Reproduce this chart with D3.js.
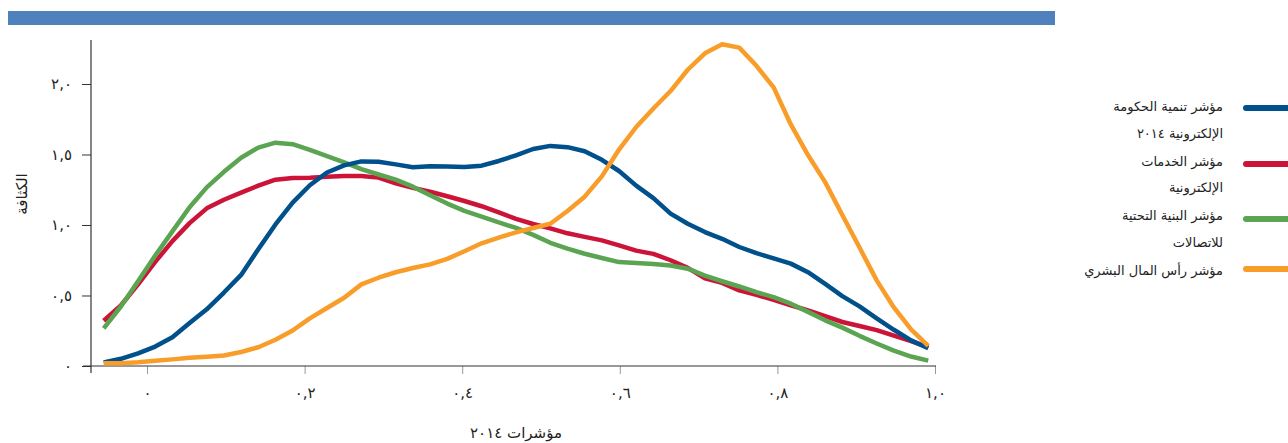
<!DOCTYPE html>
<html><head><meta charset="utf-8">
<script src="https://cdn.jsdelivr.net/npm/d3@7"></script>
<style>
html,body{margin:0;padding:0;background:#fff;}
svg{display:block;font-family:"DejaVu Sans",sans-serif;}
</style></head>
<body><svg id="c" width="1288" height="443"></svg>
<script>
// x positions (index values)
const xs = [-0.055,-0.0332,-0.0114,0.0104,0.0322,0.054,0.0758,0.0976,0.1194,0.1412,0.163,0.1848,0.2066,0.2284,0.2502,0.272,0.2938,0.3156,0.3374,0.3592,0.381,0.4028,0.4246,0.4464,0.4682,0.49,0.5118,0.5336,0.5554,0.5772,0.599,0.6208,0.6426,0.6644,0.6862,0.708,0.7298,0.7516,0.7734,0.7952,0.817,0.8388,0.8606,0.8824,0.9042,0.926,0.9478,0.9696,0.9914];
const egdi = [0.026,0.051,0.089,0.138,0.204,0.305,0.402,0.521,0.646,0.828,1.004,1.159,1.282,1.372,1.423,1.451,1.448,1.430,1.410,1.417,1.415,1.411,1.421,1.454,1.494,1.539,1.561,1.552,1.523,1.462,1.383,1.279,1.191,1.081,1.009,0.950,0.902,0.844,0.800,0.763,0.726,0.665,0.582,0.496,0.423,0.338,0.257,0.182,0.126];
const osi = [0.321,0.429,0.579,0.738,0.886,1.013,1.118,1.179,1.230,1.279,1.321,1.333,1.335,1.342,1.348,1.347,1.336,1.296,1.263,1.236,1.204,1.170,1.133,1.090,1.043,1.007,0.976,0.941,0.916,0.891,0.856,0.818,0.795,0.750,0.696,0.622,0.589,0.536,0.504,0.469,0.431,0.394,0.353,0.312,0.284,0.254,0.215,0.177,0.133];
const tii = [0.267,0.422,0.601,0.783,0.955,1.126,1.267,1.377,1.477,1.549,1.584,1.573,1.533,1.488,1.444,1.396,1.358,1.322,1.272,1.211,1.152,1.100,1.060,1.018,0.979,0.930,0.874,0.833,0.796,0.766,0.737,0.730,0.724,0.713,0.690,0.641,0.601,0.564,0.524,0.488,0.442,0.384,0.324,0.272,0.214,0.160,0.109,0.067,0.038];
const hci = [0.019,0.019,0.026,0.037,0.047,0.059,0.066,0.074,0.099,0.133,0.186,0.252,0.338,0.411,0.484,0.579,0.626,0.665,0.695,0.721,0.760,0.814,0.870,0.911,0.948,0.979,1.009,1.099,1.201,1.345,1.535,1.695,1.826,1.950,2.101,2.218,2.282,2.258,2.129,1.976,1.713,1.496,1.304,1.071,0.840,0.607,0.415,0.259,0.142];

const seriesNames = [["مؤشر تنمية الحكومة","الإلكترونية ٢٠١٤"],["مؤشر الخدمات","الإلكترونية"],["مؤشر البنية التحتية","للاتصالات"],["مؤشر رأس المال البشري"]];
const seriesColors = ["#00508c","#cc1439","#5ba552","#f99d2a"];
const seriesValues = [egdi, osi, tii, hci];
const drawOrder = [1,2,0,3];

const xTicks = [0,0.2,0.4,0.6,0.8,1.0];
const xTickLabels = ["٠","٠,٢","٠,٤","٠,٦","٠,٨","١,٠"];
const yTicks = [0,0.5,1.0,1.5,2.0];
const yTickLabels = ["٠","٠,٥","١,٠","١,٥","٢,٠"];
const xTitle = "مؤشرات ٢٠١٤";
const yTitle = "الكثافة";

const svg = d3.select("#c");
const x = d3.scaleLinear().domain([-0.0711,1.0]).range([91,935]);
const y = d3.scaleLinear().domain([0,2.312]).range([366,40]);

// header bar
svg.append("rect").attr("x",8).attr("y",11).attr("width",1047).attr("height",14).attr("fill","#4f81bd");

// y axis
const yAx = svg.append("g").attr("transform","translate(91,0)")
  .call(d3.axisLeft(y).tickValues(yTicks).tickSize(9).tickPadding(10).tickFormat((d,i)=>yTickLabels[i]));
yAx.select(".domain").remove();
yAx.selectAll(".tick line").attr("stroke","#333");
yAx.selectAll("text").attr("font-size",15).attr("fill","#222").attr("font-family","DejaVu Sans").attr("letter-spacing",3);
svg.append("line").attr("x1",91).attr("x2",91).attr("y1",40).attr("y2",373).attr("stroke","#333").attr("stroke-width",1.2);

// x axis
const xAx = svg.append("g").attr("transform","translate(0,366)")
  .call(d3.axisBottom(x).tickValues(xTicks).tickSize(8).tickPadding(13).tickFormat((d,i)=>xTickLabels[i]));
xAx.select(".domain").remove();
xAx.selectAll(".tick line").attr("stroke","#999");
xAx.selectAll("text").attr("font-size",15).attr("fill","#222").attr("font-family","DejaVu Sans").attr("letter-spacing",3);
svg.append("line").attr("x1",83).attr("x2",936).attr("y1",366).attr("y2",366).attr("stroke","#333").attr("stroke-width",1.2);

// titles
svg.append("text").attr("x",516).attr("y",438).attr("text-anchor","middle").attr("font-size",15).attr("fill","#222").text(xTitle);
svg.append("text").attr("transform","translate(27,194) rotate(-90)").attr("text-anchor","middle").attr("font-size",15).attr("fill","#222").text(yTitle);

// lines
const line = d3.line().x((d,i)=>x(xs[i])).y(d=>y(d));
drawOrder.forEach(k=>{
  svg.append("path").datum(seriesValues[k]).attr("d",line)
    .attr("fill","none").attr("stroke",seriesColors[k]).attr("stroke-width",4.5)
    .attr("stroke-linejoin","round").attr("stroke-linecap","butt");
});

// legend
const legendSwatchY = [108,164,219,269];
const legendTextY = [[111,138],[166,192],[220,247],[275]];
seriesNames.forEach((lines,k)=>{
  svg.append("line").attr("x1",1246).attr("x2",1300).attr("y1",legendSwatchY[k]).attr("y2",legendSwatchY[k])
    .attr("stroke",seriesColors[k]).attr("stroke-width",6).attr("stroke-linecap","round");
  lines.forEach((t,j)=>{
    svg.append("text").attr("x",1223).attr("y",legendTextY[k][j]).attr("text-anchor","start")
      .attr("direction","rtl").attr("font-size",13).attr("fill","#222").text(t);
  });
});
</script></body></html>
